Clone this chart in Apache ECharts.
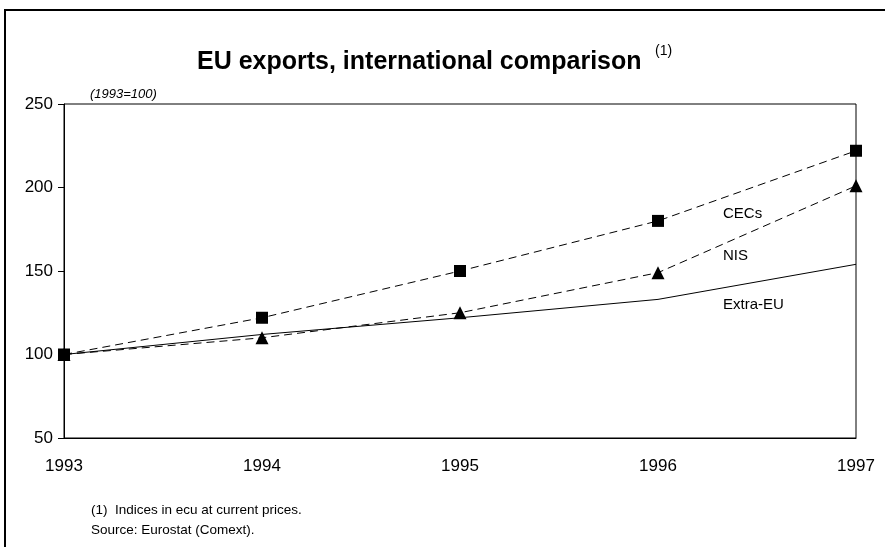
<!DOCTYPE html>
<html>
<head>
<meta charset="utf-8">
<script src="https://cdn.jsdelivr.net/npm/echarts@6/dist/echarts.min.js"></script>
<style>
  html, body { margin: 0; padding: 0; background: #fff; }
  #chart { width: 885px; height: 547px; }
</style>
</head>
<body>
<div id="chart"></div>
<script>
var years = ['1993', '1994', '1995', '1996', '1997'];
var cecs = [100, 122, 150, 180, 222];
var nis = [100, 110, 125, 149, 201];
var extraEu = [100, 112, 122, 133, 154];
var yTicks = [50, 100, 150, 200, 250];

var chart = echarts.init(document.getElementById('chart'));
var font = 'Liberation Sans, Arial, sans-serif';

var option = {
  backgroundColor: '#fff',
  animation: false,
  grid: {
    left: 64,
    right: 29,
    top: 104,
    bottom: 109,
    show: true,
    borderColor: '#000',
    borderWidth: 1
  },
  xAxis: {
    type: 'category',
    data: years,
    boundaryGap: false,
    axisLine: { lineStyle: { color: '#000', width: 1 } },
    axisTick: { show: false },
    axisLabel: { color: '#000', fontSize: 17, fontFamily: font, margin: 20 },
    splitLine: { show: false }
  },
  yAxis: {
    type: 'value',
    min: yTicks[0],
    max: yTicks[yTicks.length - 1],
    interval: 50,
    axisLine: { show: true, lineStyle: { color: '#000', width: 1 } },
    axisTick: { show: true, length: 6, lineStyle: { color: '#000' } },
    axisLabel: { color: '#000', fontSize: 17, fontFamily: font, margin: 11 },
    splitLine: { show: false }
  },
  series: [
    {
      name: 'Extra-EU',
      type: 'line',
      data: extraEu,
      symbol: 'none',
      lineStyle: { color: '#000', width: 1 },
      z: 2
    },
    {
      name: 'NIS',
      type: 'line',
      data: nis,
      symbol: 'triangle',
      symbolSize: 13,
      itemStyle: { color: '#000' },
      lineStyle: { color: '#000', width: 1, type: [8, 5] },
      z: 3
    },
    {
      name: 'CECs',
      type: 'line',
      data: cecs,
      symbol: 'rect',
      symbolSize: 12,
      itemStyle: { color: '#000' },
      lineStyle: { color: '#000', width: 1, type: [8, 5] },
      z: 4
    }
  ],
  graphic: [
    {
      type: 'rect',
      shape: { x: 5, y: 10, width: 900, height: 600 },
      style: { fill: 'none', stroke: '#000', lineWidth: 2 },
      silent: true
    },
    {
      type: 'text', left: 197, top: 50,
      style: { text: 'EU exports, international comparison', font: 'bold 25px ' + font, fill: '#000' }
    },
    {
      type: 'text', left: 655, top: 44,
      style: { text: '(1)', font: '14px ' + font, fill: '#000' }
    },
    {
      type: 'text', left: 90, top: 88,
      style: { text: '(1993=100)', font: 'italic 13px ' + font, fill: '#000' }
    },
    {
      type: 'text', left: 723, top: 206,
      style: { text: 'CECs', font: '15px ' + font, fill: '#000' }
    },
    {
      type: 'text', left: 723, top: 248,
      style: { text: 'NIS', font: '15px ' + font, fill: '#000' }
    },
    {
      type: 'text', left: 723, top: 297,
      style: { text: 'Extra-EU', font: '15px ' + font, fill: '#000' }
    },
    {
      type: 'text', left: 91, top: 503,
      style: { text: '(1)  Indices in ecu at current prices.', font: '13.5px ' + font, fill: '#000' }
    },
    {
      type: 'text', left: 91, top: 523,
      style: { text: 'Source: Eurostat (Comext).', font: '13.5px ' + font, fill: '#000' }
    }
  ]
};

chart.setOption(option);
</script>
</body>
</html>
